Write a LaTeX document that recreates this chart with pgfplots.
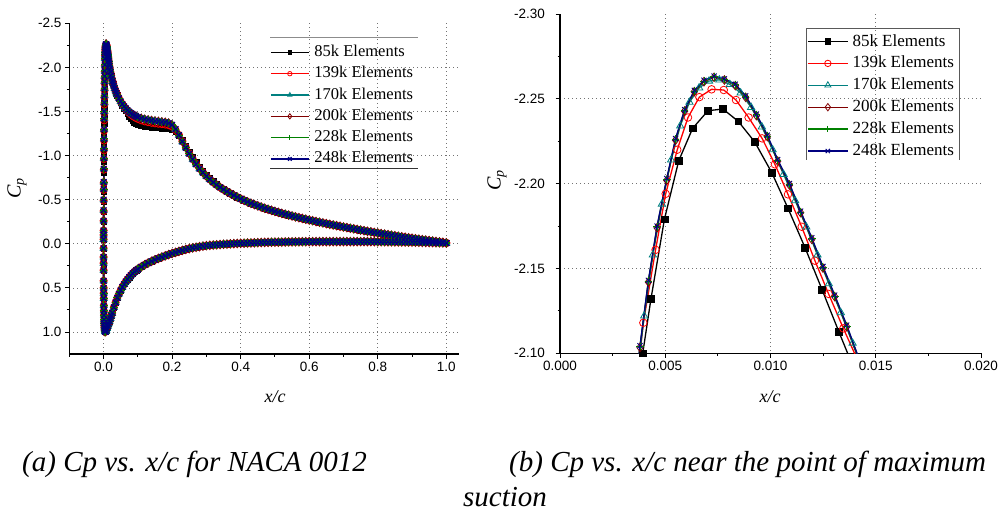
\documentclass[border=0pt]{standalone}
\usepackage{pgfplots}
\pgfplotsset{compat=1.18}
\usepackage{pgfplotstable}
\usepackage{fontspec}
\setmainfont{Liberation Serif}
\setsansfont{Liberation Sans}

\definecolor{cteal}{RGB}{0,128,128}
\definecolor{cwine}{RGB}{128,0,0}
\definecolor{cgreen}{RGB}{0,128,0}
\definecolor{cnavy}{RGB}{0,0,128}
\definecolor{cred}{RGB}{255,0,0}

% Left plot: lower surface (x from 1 to LE), then upper surface (LE to 1)
\pgfplotstableread{
x k85 k139 fine
1.00 -0.008 -0.008 -0.008
0.99 -0.010 -0.010 -0.010
0.98 -0.011 -0.011 -0.011
0.97 -0.012 -0.012 -0.012
0.96 -0.013 -0.013 -0.013
0.95 -0.014 -0.014 -0.014
0.94 -0.015 -0.015 -0.015
0.93 -0.016 -0.016 -0.016
0.92 -0.017 -0.017 -0.017
0.91 -0.018 -0.018 -0.018
0.90 -0.019 -0.019 -0.019
0.89 -0.019 -0.019 -0.019
0.88 -0.020 -0.020 -0.020
0.87 -0.020 -0.020 -0.020
0.86 -0.021 -0.021 -0.021
0.85 -0.021 -0.021 -0.021
0.84 -0.022 -0.022 -0.022
0.83 -0.022 -0.022 -0.022
0.82 -0.023 -0.023 -0.023
0.81 -0.023 -0.023 -0.023
0.80 -0.023 -0.023 -0.023
0.79 -0.024 -0.024 -0.024
0.78 -0.024 -0.024 -0.024
0.77 -0.024 -0.024 -0.024
0.76 -0.024 -0.024 -0.024
0.75 -0.024 -0.024 -0.024
0.74 -0.024 -0.024 -0.024
0.73 -0.024 -0.024 -0.024
0.72 -0.024 -0.024 -0.024
0.71 -0.024 -0.024 -0.024
0.70 -0.024 -0.024 -0.024
0.69 -0.024 -0.024 -0.024
0.68 -0.024 -0.024 -0.024
0.67 -0.024 -0.024 -0.024
0.66 -0.024 -0.024 -0.024
0.65 -0.024 -0.024 -0.024
0.64 -0.024 -0.024 -0.024
0.63 -0.024 -0.024 -0.024
0.62 -0.024 -0.024 -0.024
0.61 -0.024 -0.024 -0.024
0.60 -0.024 -0.024 -0.024
0.59 -0.023 -0.023 -0.023
0.58 -0.023 -0.023 -0.023
0.57 -0.022 -0.022 -0.022
0.56 -0.022 -0.022 -0.022
0.55 -0.021 -0.021 -0.021
0.54 -0.021 -0.021 -0.021
0.53 -0.020 -0.020 -0.020
0.52 -0.019 -0.019 -0.019
0.51 -0.018 -0.018 -0.018
0.50 -0.018 -0.018 -0.018
0.49 -0.017 -0.017 -0.017
0.48 -0.016 -0.016 -0.016
0.47 -0.015 -0.015 -0.015
0.46 -0.014 -0.014 -0.014
0.45 -0.012 -0.012 -0.012
0.44 -0.011 -0.011 -0.011
0.43 -0.009 -0.009 -0.009
0.42 -0.008 -0.008 -0.008
0.41 -0.006 -0.006 -0.006
0.40 -0.005 -0.005 -0.005
0.39 -0.003 -0.003 -0.003
0.38 -0.001 -0.001 -0.001
0.37 0.001 0.001 0.001
0.36 0.004 0.004 0.004
0.35 0.006 0.006 0.006
0.34 0.009 0.009 0.009
0.33 0.012 0.012 0.012
0.32 0.015 0.015 0.015
0.31 0.018 0.018 0.018
0.30 0.022 0.022 0.022
0.29 0.027 0.027 0.027
0.28 0.033 0.033 0.033
0.27 0.040 0.040 0.040
0.26 0.047 0.047 0.047
0.25 0.055 0.055 0.055
0.24 0.064 0.064 0.064
0.23 0.075 0.075 0.075
0.22 0.086 0.086 0.086
0.21 0.098 0.098 0.098
0.20 0.110 0.110 0.110
0.19 0.123 0.123 0.123
0.18 0.137 0.137 0.137
0.17 0.151 0.151 0.151
0.16 0.166 0.166 0.166
0.15 0.182 0.182 0.182
0.14 0.199 0.199 0.199
0.13 0.218 0.218 0.218
0.12 0.239 0.239 0.239
0.11 0.262 0.262 0.262
0.10 0.288 0.288 0.288
0.095 0.302 0.302 0.302
0.090 0.318 0.318 0.318
0.085 0.336 0.336 0.336
0.080 0.356 0.356 0.356
0.075 0.378 0.378 0.378
0.070 0.402 0.402 0.402
0.065 0.428 0.428 0.428
0.060 0.457 0.457 0.457
0.055 0.490 0.490 0.490
0.050 0.527 0.527 0.527
0.045 0.568 0.568 0.568
0.040 0.613 0.613 0.613
0.035 0.665 0.665 0.665
0.030 0.722 0.722 0.722
0.025 0.784 0.784 0.784
0.0225 0.815 0.815 0.815
0.020 0.846 0.846 0.846
0.0175 0.877 0.877 0.877
0.015 0.906 0.906 0.906
0.0125 0.934 0.934 0.934
0.010 0.960 0.960 0.960
0.008 0.980 0.980 0.980
0.006 0.995 0.995 0.995
0.0045 0.998 0.998 0.998
0.0039 0.990 0.990 0.990
0.0033 0.975 0.975 0.975
0.0028 0.955 0.955 0.955
0.0023 0.930 0.930 0.930
0.0019 0.900 0.900 0.900
0.0015 0.860 0.860 0.860
0.0012 0.810 0.810 0.810
0.0009 0.760 0.760 0.760
0.0007 0.700 0.700 0.700
0.0005 0.620 0.620 0.620
0.0004 0.560 0.560 0.560
0.0003 0.500 0.500 0.500
0.0002 0.420 0.420 0.420
0.0001 0.300 0.300 0.300
0.00005 0.220 0.220 0.220
0.0000 0.150 0.150 0.150
0.0000 0.050 0.050 0.050
0.00002 -0.05 -0.05 -0.05
0.00005 -0.10 -0.10 -0.10
0.0001 -0.14 -0.15 -0.15
0.00015 -0.25 -0.26 -0.26
0.0002 -0.36 -0.37 -0.38
0.0003 -0.48 -0.49 -0.50
0.0004 -0.59 -0.61 -0.62
0.0005 -0.67 -0.69 -0.70
0.0007 -0.81 -0.84 -0.85
0.0009 -0.93 -0.96 -0.97
0.0011 -1.03 -1.06 -1.08
0.0013 -1.14 -1.17 -1.19
0.0015 -1.24 -1.28 -1.30
0.0018 -1.36 -1.40 -1.42
0.0020 -1.44 -1.48 -1.50
0.0023 -1.54 -1.58 -1.60
0.0025 -1.62 -1.66 -1.68
0.0028 -1.70 -1.74 -1.76
0.0030 -1.78 -1.82 -1.84
0.0032 -1.85 -1.88 -1.90
0.0034 -1.91 -1.95 -1.96
0.0036 -1.98 -2.02 -2.03
0.0038 -2.090 -2.095 -2.100
0.0042 -2.122 -2.135 -2.142
0.0046 -2.152 -2.167 -2.174
0.0051 -2.183 -2.196 -2.202
0.0055 -2.205 -2.219 -2.226
0.0059 -2.221 -2.235 -2.243
0.0064 -2.234 -2.248 -2.254
0.0068 -2.240 -2.253 -2.260
0.0073 -2.243 -2.256 -2.263
0.0078 -2.244 -2.255 -2.261
0.0083 -2.239 -2.251 -2.258
0.0088 -2.232 -2.242 -2.251
0.0093 -2.224 -2.233 -2.240
0.0099 -2.210 -2.220 -2.228
0.0103 -2.201 -2.208 -2.213
0.0109 -2.185 -2.193 -2.199
0.0114 -2.170 -2.178 -2.183
0.0120 -2.152 -2.160 -2.167
0.0125 -2.137 -2.145 -2.150
0.0131 -2.118 -2.126 -2.133
0.0136 -2.103 -2.110 -2.116
0.0141 -2.088 -2.095 -2.100
0.0150 -2.062 -2.068 -2.072
0.0160 -2.034 -2.039 -2.043
0.0170 -2.008 -2.012 -2.016
0.0185 -1.973 -1.977 -1.980
0.0200 -1.942 -1.945 -1.948
0.0220 -1.905 -1.908 -1.910
0.0240 -1.871 -1.874 -1.876
0.0260 -1.840 -1.843 -1.845
0.0280 -1.812 -1.815 -1.817
0.0300 -1.786 -1.789 -1.791
0.0325 -1.757 -1.760 -1.762
0.0350 -1.730 -1.733 -1.735
0.0375 -1.706 -1.709 -1.711
0.0400 -1.684 -1.687 -1.689
0.0450 -1.642 -1.646 -1.649
0.0500 -1.604 -1.610 -1.614
0.0550 -1.570 -1.579 -1.584
0.0600 -1.538 -1.552 -1.558
0.0650 -1.505 -1.527 -1.535
0.0700 -1.475 -1.504 -1.514
0.0750 -1.445 -1.484 -1.496
0.0800 -1.418 -1.466 -1.480
0.0850 -1.395 -1.451 -1.466
0.0900 -1.376 -1.438 -1.454
0.0950 -1.360 -1.426 -1.444
0.10 -1.348 -1.416 -1.435
0.11 -1.338 -1.400 -1.422
0.12 -1.330 -1.388 -1.412
0.13 -1.324 -1.379 -1.404
0.14 -1.319 -1.372 -1.398
0.15 -1.315 -1.366 -1.392
0.16 -1.312 -1.361 -1.387
0.17 -1.309 -1.357 -1.382
0.18 -1.306 -1.352 -1.377
0.19 -1.302 -1.345 -1.368
0.20 -1.294 -1.330 -1.348
0.21 -1.276 -1.290 -1.300
0.22 -1.232 -1.234 -1.232
0.23 -1.176 -1.164 -1.158
0.24 -1.113 -1.094 -1.088
0.25 -1.046 -1.026 -1.020
0.26 -0.982 -0.963 -0.958
0.27 -0.924 -0.906 -0.902
0.28 -0.871 -0.855 -0.851
0.29 -0.824 -0.809 -0.806
0.30 -0.782 -0.768 -0.766
0.31 -0.744 -0.730 -0.730
0.32 -0.709 -0.697 -0.697
0.33 -0.677 -0.667 -0.667
0.34 -0.648 -0.640 -0.640
0.35 -0.621 -0.615 -0.615
0.36 -0.596 -0.592 -0.592
0.37 -0.572 -0.570 -0.570
0.38 -0.550 -0.549 -0.549
0.39 -0.529 -0.529 -0.529
0.40 -0.510 -0.510 -0.510
0.41 -0.492 -0.492 -0.492
0.42 -0.475 -0.475 -0.475
0.43 -0.459 -0.459 -0.459
0.44 -0.444 -0.444 -0.444
0.45 -0.430 -0.430 -0.430
0.46 -0.416 -0.416 -0.416
0.47 -0.403 -0.403 -0.403
0.48 -0.391 -0.391 -0.391
0.49 -0.379 -0.379 -0.379
0.50 -0.367 -0.367 -0.367
0.51 -0.356 -0.356 -0.356
0.52 -0.345 -0.345 -0.345
0.53 -0.335 -0.335 -0.335
0.54 -0.325 -0.325 -0.325
0.55 -0.315 -0.315 -0.315
0.56 -0.305 -0.305 -0.305
0.57 -0.296 -0.296 -0.296
0.58 -0.287 -0.287 -0.287
0.59 -0.278 -0.278 -0.278
0.60 -0.269 -0.269 -0.269
0.61 -0.261 -0.261 -0.261
0.62 -0.252 -0.252 -0.252
0.63 -0.244 -0.244 -0.244
0.64 -0.236 -0.236 -0.236
0.65 -0.228 -0.228 -0.228
0.66 -0.220 -0.220 -0.220
0.67 -0.213 -0.213 -0.213
0.68 -0.205 -0.205 -0.205
0.69 -0.198 -0.198 -0.198
0.70 -0.190 -0.190 -0.190
0.71 -0.183 -0.183 -0.183
0.72 -0.176 -0.176 -0.176
0.73 -0.169 -0.169 -0.169
0.74 -0.162 -0.162 -0.162
0.75 -0.155 -0.155 -0.155
0.76 -0.148 -0.148 -0.148
0.77 -0.141 -0.141 -0.141
0.78 -0.135 -0.135 -0.135
0.79 -0.128 -0.128 -0.128
0.80 -0.122 -0.122 -0.122
0.81 -0.115 -0.115 -0.115
0.82 -0.109 -0.109 -0.109
0.83 -0.103 -0.103 -0.103
0.84 -0.097 -0.097 -0.097
0.85 -0.091 -0.091 -0.091
0.86 -0.085 -0.085 -0.085
0.87 -0.079 -0.079 -0.079
0.88 -0.073 -0.073 -0.073
0.89 -0.068 -0.068 -0.068
0.90 -0.062 -0.062 -0.062
0.91 -0.057 -0.057 -0.057
0.92 -0.051 -0.051 -0.051
0.93 -0.046 -0.046 -0.046
0.94 -0.041 -0.041 -0.041
0.95 -0.036 -0.036 -0.036
0.96 -0.031 -0.031 -0.031
0.97 -0.026 -0.026 -0.026
0.98 -0.021 -0.021 -0.021
0.99 -0.016 -0.016 -0.016
1.00 -0.010 -0.010 -0.010
}\leftdata

% Right plot: each mesh
\pgfplotstableread{
x cp
0.00375 -2.070
0.00393 -2.100
0.00432 -2.132
0.00496 -2.179
0.00564 -2.2135
0.00630 -2.2326
0.00703 -2.2430
0.00774 -2.2440
0.00847 -2.2367
0.00925 -2.2246
0.01006 -2.2065
0.01083 -2.1855
0.01164 -2.1623
0.01245 -2.1375
0.01325 -2.1126
0.01406 -2.0880
}\rA
\pgfplotstableread{
x cp
0.00375 -2.095
0.00396 -2.118
0.00454 -2.161
0.00502 -2.194
0.00557 -2.220
0.00608 -2.239
0.00662 -2.251
0.00720 -2.2556
0.00778 -2.2552
0.00836 -2.2493
0.00896 -2.239
0.00960 -2.2267
0.01021 -2.2114
0.01083 -2.1937
0.01148 -2.1746
0.01211 -2.1546
0.01276 -2.135
0.01346 -2.1147
0.01410 -2.097
}\rB
\pgfplotstableread{
x cp
0.00360 -2.080
0.00400 -2.122
0.00441 -2.158
0.00484 -2.188
0.00528 -2.214
0.00571 -2.234
0.00615 -2.248
0.00661 -2.2565
0.00708 -2.2605
0.00757 -2.2612
0.00807 -2.2585
0.00858 -2.2535
0.00908 -2.2450
0.00959 -2.2335
0.01010 -2.2200
0.01062 -2.2055
0.01117 -2.1900
0.01170 -2.1745
0.01223 -2.1580
0.01277 -2.1410
0.01334 -2.1240
0.01390 -2.1060
0.01430 -2.0930
}\rC
\pgfplotstableread{
x cp
0.00350 -2.070
0.00380 -2.1035
0.00420 -2.142
0.00461 -2.174
0.00507 -2.202
0.00549 -2.2257
0.00592 -2.2428
0.00638 -2.2542
0.00684 -2.2601
0.00732 -2.2627
0.00781 -2.2611
0.00833 -2.2578
0.00882 -2.2509
0.00933 -2.2401
0.00985 -2.2277
0.01034 -2.2133
0.01090 -2.1992
0.01143 -2.1829
0.01196 -2.1672
0.01249 -2.1503
0.01305 -2.1334
0.01362 -2.1157
0.01420 -2.0960
}\rD
\pgfplotstableread{
x cp
0.00350 -2.071
0.00380 -2.1040
0.00420 -2.1425
0.00461 -2.1745
0.00507 -2.2025
0.00549 -2.2262
0.00592 -2.2432
0.00638 -2.2546
0.00684 -2.2605
0.00732 -2.2630
0.00781 -2.2614
0.00833 -2.2582
0.00882 -2.2513
0.00933 -2.2405
0.00985 -2.2281
0.01034 -2.2137
0.01090 -2.1996
0.01143 -2.1833
0.01196 -2.1676
0.01249 -2.1507
0.01305 -2.1338
0.01362 -2.1161
0.01420 -2.0965
}\rE
\pgfplotstableread{
x cp
0.00350 -2.072
0.00380 -2.1045
0.00420 -2.1430
0.00461 -2.1750
0.00507 -2.2030
0.00549 -2.2266
0.00592 -2.2436
0.00638 -2.2550
0.00684 -2.2609
0.00732 -2.2634
0.00781 -2.2618
0.00833 -2.2586
0.00882 -2.2518
0.00933 -2.2410
0.00985 -2.2286
0.01034 -2.2142
0.01090 -2.2001
0.01143 -2.1838
0.01196 -2.1681
0.01249 -2.1512
0.01305 -2.1343
0.01362 -2.1166
0.01420 -2.0970
}\rF

\pgfplotsset{
  s85/.style={black, line width=1.3pt, mark=square*, mark options={solid, fill=black, line width=0.6pt}},
  s139/.style={cred, line width=1.3pt, mark=o, mark options={solid, fill=white, line width=0.8pt}},
  s170/.style={cteal, line width=1.3pt, mark=triangle, mark options={solid, fill=white, line width=0.8pt}},
  s200/.style={cwine, line width=1.3pt, mark=diamond, mark options={solid, fill=white, line width=0.8pt}},
  s228/.style={cgreen, line width=1.3pt, mark=+, mark options={solid, line width=0.9pt}},
  s248/.style={cnavy, line width=1.3pt, mark=x, mark options={solid, line width=0.9pt}},
  common/.style={
    scale only axis,
    y dir=reverse,
    axis x line*=bottom,
    axis y line*=left,
    axis line style={-, line width=1.1pt, black},
    tick align=outside,
    major tick length=4.5pt,
    minor tick length=2.5pt,
    every tick/.style={black, line width=0.9pt},
    xmajorgrids, ymajorgrids,
    major grid style={black!55, dash pattern=on 1.1pt off 2.9pt, line width=0.7pt},
    tick label style={font=\fontsize{13.5}{15}\selectfont\sffamily},
    extra tick style={grid=none},
    legend cell align=left,
  },
}

\begin{document}
\begin{tikzpicture}
\path[use as bounding box] (0pt,0pt) rectangle (1000pt,-518pt);

% ---------- left axis ----------
\begin{axis}[common,
  at={(69.3pt,-354pt)}, anchor=south west,
  width=390pt, height=330.7pt,
  xmin=-0.1, xmax=1.038, ymin=-2.5, ymax=1.25,
  xtick={0,0.2,0.4,0.6,0.8,1.0},
  xticklabels={0.0,0.2,0.4,0.6,0.8,1.0},
  minor xtick={-0.1,0.1,0.3,0.5,0.7,0.9},
  ytick={-2,-1.5,-1,-0.5,0,0.5,1},
  yticklabels={-2.0,-1.5,-1.0,-0.5,0.0,0.5,1.0},
  extra y ticks={-2.5}, extra y tick labels={-2.5},
  minor ytick={-2.25,-1.75,-1.25,-0.75,-0.25,0.25,0.75},
  legend image code/.code={
    \draw[mark repeat=2, mark phase=2, every mark/.append style={scale=0.62}] plot coordinates {(0pt,0pt) (19pt,0pt) (38pt,0pt)};
  },
  legend style={at={(axis description cs:0.5146,0.9383)}, anchor=north west,
    draw=none, fill=none, inner sep=0pt,
    font=\fontsize{16.5}{18}\selectfont, row sep=4.3pt,
    nodes={inner sep=1pt, text height=11.5pt, text depth=3.5pt},
    /tikz/every odd column/.append style={column sep=4pt}},
]
\addplot[s85, mark size=2.7pt] table[x=x, y=k85]{\leftdata};
\addplot[s139, mark size=3.6pt] table[x=x, y=k139]{\leftdata};
\addplot[s170, mark size=4.0pt] table[x=x, y=fine]{\leftdata};
\addplot[s200, mark size=4.3pt] table[x=x, y=fine]{\leftdata};
\addplot[s228, mark size=3.8pt, mark options={solid, line width=1.0pt}] table[x=x, y=fine]{\leftdata};
\addplot[s248, mark size=4.0pt, mark options={solid, line width=1.2pt}] table[x=x, y=fine]{\leftdata};
\legend{85k Elements, 139k Elements, 170k Elements, 200k Elements, 228k Elements, 248k Elements}
\end{axis}
\draw[black!45, line width=0.9pt] (270pt,-37pt) -- (418pt,-37pt);
\draw[black!80, line width=0.9pt] (270pt,-168pt) -- (418pt,-168pt);

% ---------- right axis ----------
\begin{axis}[common,
  at={(560pt,-353.3pt)}, anchor=south west,
  width=421pt, height=339.3pt,
  xmin=0, xmax=0.02, ymin=-2.30, ymax=-2.10,
  xtick={0,0.005,0.010,0.015},
  xticklabels={0.000,0.005,0.010,0.015},
  extra x ticks={0.020}, extra x tick labels={0.020},
  minor xtick={0.0025,0.0075,0.0125,0.0175},
  ytick={-2.25,-2.20,-2.15,-2.10},
  yticklabels={-2.25,-2.20,-2.15,-2.10},
  extra y ticks={-2.30}, extra y tick labels={-2.30},
  minor ytick={-2.275,-2.225,-2.175,-2.125},
  scaled x ticks=false, scaled y ticks=false,
  yticklabel style={xshift=-7pt},
  legend image code/.code={
    \draw[mark repeat=2, mark phase=2, every mark/.append style={scale=0.85}] plot coordinates {(0pt,0pt) (20pt,0pt) (40pt,0pt)};
  },
  legend style={at={(axis description cs:0.5867,0.9446)}, anchor=north west,
    draw=none, fill=none, inner sep=0pt,
    font=\fontsize{17}{19}\selectfont, row sep=4.9pt,
    nodes={inner sep=1pt, text height=12pt, text depth=3pt},
    /tikz/every odd column/.append style={column sep=3pt}},
]
\addplot[s85, mark size=3.4pt] table{\rA};
\addplot[s139, mark size=3.8pt] table{\rB};
\addplot[s170, mark size=4.2pt] table{\rC};
\addplot[s200, mark size=4.3pt] table{\rD};
\addplot[s228, mark size=3.8pt] table{\rE};
\addplot[s248, mark size=3.6pt] table{\rF};
\legend{85k Elements, 139k Elements, 170k Elements, 200k Elements, 228k Elements, 248k Elements}
\end{axis}
\draw[black!65, line width=0.9pt] (806pt,-160pt) -- (806pt,-28pt) -- (959pt,-28pt) -- (959pt,-160pt);

% ---------- axis labels ----------
\node[font=\fontsize{18}{20}\selectfont\itshape] at (275pt,-397pt) {x/c};
\node[font=\fontsize{18}{20}\selectfont\itshape] at (770pt,-397pt) {x/c};
\node[font=\fontsize{20}{22}\selectfont\itshape, rotate=90] at (17pt,-188pt) {C\textsubscript{p}};
\node[font=\fontsize{20}{22}\selectfont\itshape, rotate=90] at (497pt,-180pt) {C\textsubscript{p}};

% ---------- captions ----------
\node[anchor=base west, font=\fontsize{29}{32}\selectfont\itshape, inner sep=0pt] at (22pt,-471pt) {(a) Cp vs. x/c for NACA 0012};
\node[anchor=base west, font=\fontsize{29}{32}\selectfont\itshape, inner sep=0pt] at (509pt,-471pt) {(b) Cp vs. x/c near the point of maximum};
\node[anchor=base, font=\fontsize{29}{32}\selectfont\itshape, inner sep=0pt] at (505pt,-506pt) {suction};
\end{tikzpicture}
\end{document}
